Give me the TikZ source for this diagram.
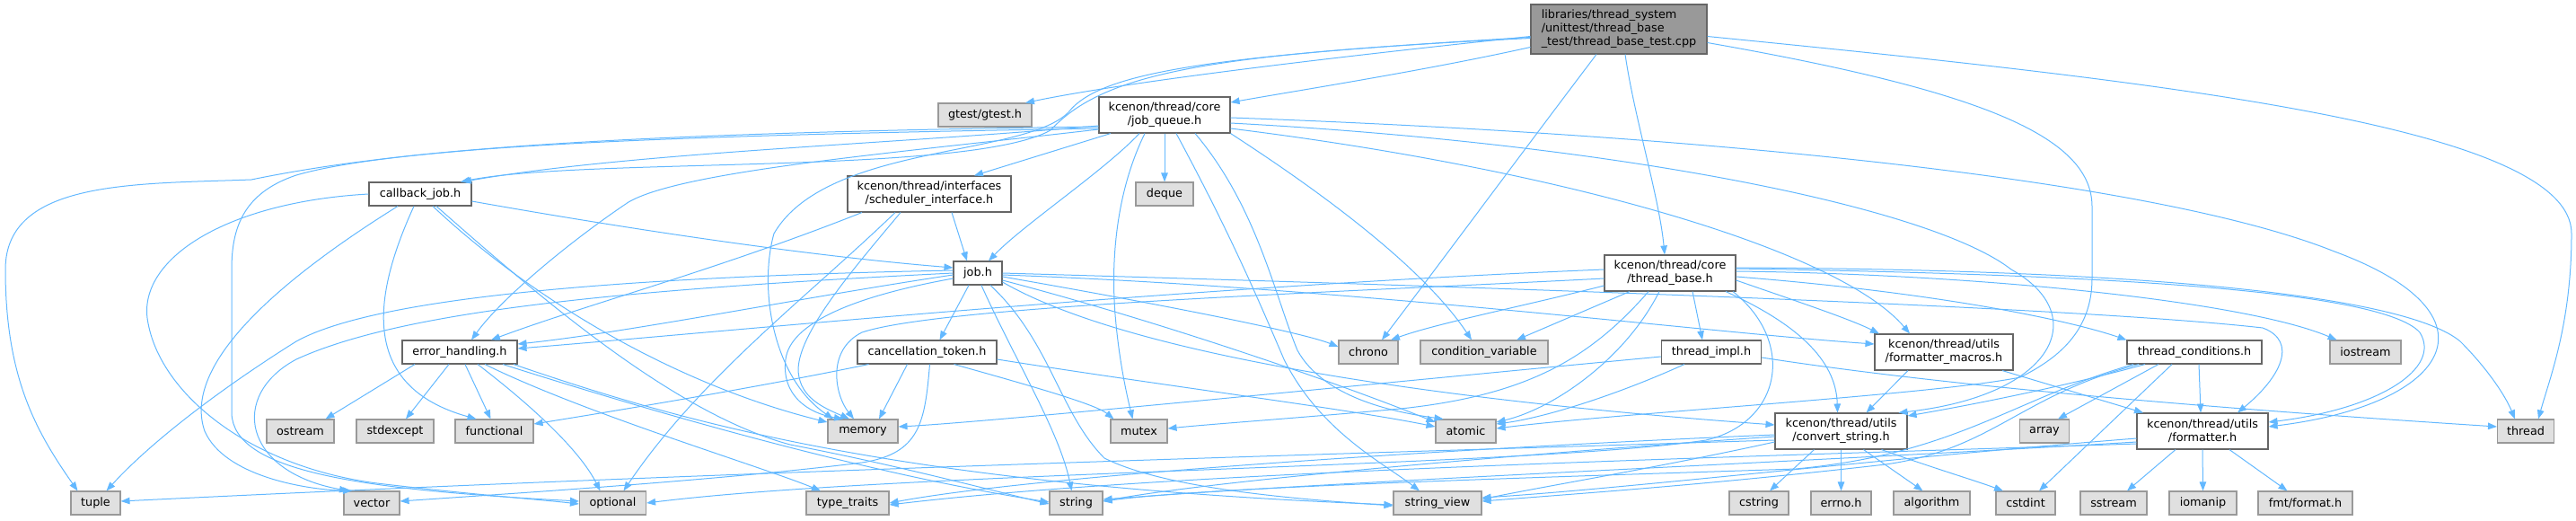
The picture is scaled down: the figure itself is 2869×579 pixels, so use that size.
\documentclass[tikz,border=0pt]{standalone}
\usepackage{fontspec}
\setmainfont{DejaVu Sans}
\usetikzlibrary{arrows.meta}
\definecolor{edgec}{HTML}{63B8FF}
\definecolor{darkb}{HTML}{666666}
\definecolor{lightb}{HTML}{999999}
\definecolor{extfill}{HTML}{E0E0E0}
\definecolor{rootfill}{HTML}{999999}
\tikzset{
  nbase/.style={line width=1.1pt, inner sep=0pt, minimum height=26pt, align=center,
    font=\fontsize{12.8}{15}\selectfont, text=black},
  hdr/.style={nbase, draw=darkb, fill=white},
  ext/.style={nbase, draw=lightb, fill=extfill},
  rootn/.style={nbase, draw=darkb, fill=rootfill, align=left},
  e/.style={draw=edgec, line width=1pt, -{Triangle[length=10pt,width=7.5pt]}}
}
\begin{document}
\begin{tikzpicture}[x=1pt,y=-1pt]
\useasboundingbox (0,0) rectangle (2869,579);
% nodes
\node[rootn, minimum width=196pt, minimum height=55pt] (R) at (1803,32.5) {libraries/thread\_system\\/unittest/thread\_base\\\_test/thread\_base\_test.cpp};
\node[ext, minimum width=104pt] (gtest) at (1097,128) {gtest/gtest.h};
\node[hdr, minimum width=146pt, minimum height=40pt] (JQ) at (1297,128) {kcenon/thread/core\\/job\_queue.h};
\node[hdr, minimum width=114pt] (CB) at (468,216) {callback\_job.h};
\node[hdr, minimum width=182pt, minimum height=40pt] (SI) at (1035,216) {kcenon/thread/interfaces\\/scheduler\_interface.h};
\node[ext, minimum width=64pt] (deque) at (1297,216) {deque};
\node[hdr, minimum width=54pt] (J) at (1089,304) {job.h};
\node[hdr, minimum width=146pt, minimum height=40pt] (TB) at (1860,304) {kcenon/thread/core\\/thread\_base.h};
\node[hdr, minimum width=128pt] (EH) at (512,392) {error\_handling.h};
\node[hdr, minimum width=155pt] (CT) at (1032.5,392) {cancellation\_token.h};
\node[ext, minimum width=66pt] (chrono) at (1524,392) {chrono};
\node[ext, minimum width=142pt] (cv) at (1653,392) {condition\_variable};
\node[hdr, minimum width=111pt] (TI) at (1906,392) {thread\_impl.h};
\node[hdr, minimum width=154pt, minimum height=40pt] (FM) at (2165,392) {kcenon/thread/utils\\/formatter\_macros.h};
\node[hdr, minimum width=150pt] (TC) at (2444,392) {thread\_conditions.h};
\node[ext, minimum width=79pt] (iostream) at (2634.5,392) {iostream};
\node[ext, minimum width=75pt] (ostream) at (334.5,480) {ostream};
\node[ext, minimum width=86pt] (stdexcept) at (440,480) {stdexcept};
\node[ext, minimum width=87pt] (functional) at (550.5,480) {functional};
\node[ext, minimum width=78pt] (memory) at (961,480) {memory};
\node[ext, minimum width=63pt] (mutex) at (1268.5,480) {mutex};
\node[ext, minimum width=67pt] (atomic) at (1632.5,480) {atomic};
\node[hdr, minimum width=147pt, minimum height=40pt] (CS) at (2050.5,480) {kcenon/thread/utils\\/convert\_string.h};
\node[ext, minimum width=55pt] (array) at (2277,480) {array};
\node[hdr, minimum width=146pt, minimum height=40pt] (F) at (2453,480) {kcenon/thread/utils\\/formatter.h};
\node[ext, minimum width=63pt] (thread) at (2813,480) {thread};
\node[ext, minimum width=55pt] (tuple) at (106.5,560) {tuple};
\node[ext, minimum width=62pt] (vector) at (414,560) {vector};
\node[ext, minimum width=74pt] (optional) at (682.5,560) {optional};
\node[ext, minimum width=92pt] (typetraits) at (944,560) {type\_traits};
\node[ext, minimum width=59pt] (string) at (1198.5,560) {string};
\node[ext, minimum width=98pt] (stringview) at (1601,560) {string\_view};
\node[ext, minimum width=66pt] (cstring) at (1959,560) {cstring};
\node[ext, minimum width=67pt] (errno) at (2050.5,560) {errno.h};
\node[ext, minimum width=85pt] (algorithm) at (2151.5,560) {algorithm};
\node[ext, minimum width=66pt] (cstdint) at (2256,560) {cstdint};
\node[ext, minimum width=74pt] (sstream) at (2354,560) {sstream};
\node[ext, minimum width=75pt] (iomanip) at (2453.5,560) {iomanip};
\node[ext, minimum width=105pt] (fmt) at (2567.5,560) {fmt/format.h};

% root edges
\draw[e] ([yshift=-8pt]R.west) .. controls (1500,62) and (1260,90) .. ([xshift=45pt]gtest.north);
\draw[e] ([yshift=-20pt]R.west) .. controls (1590,78) and (1450,100) .. ([yshift=14pt]JQ.east);
\draw[e] ([yshift=-10pt]R.west) .. controls (1350,60) and (1230,80) .. (1170,145) .. controls (1080,195) and (650,175) .. ([xshift=45pt]CB.north);
\draw[e] ([yshift=-9pt]R.west) .. controls (1350,62) and (1225,80) .. (1190,125) .. controls (1140,175) and (920,160) .. (862,260) .. controls (845,320) and (860,420) .. ([xshift=-33pt]memory.north);
\draw[e] ([xshift=7pt]R.south) .. controls (1820,130) and (1848,220) .. ([xshift=-6pt]TB.north);
\draw[e] ([xshift=-25pt]R.south) .. controls (1698,166) and (1619,273) .. ([xshift=15pt]chrono.north);
\draw[e] ([yshift=-8pt]R.east) .. controls (2400,90) and (2864,140) .. (2864,260) .. controls (2864,360) and (2840,420) .. ([xshift=14pt]thread.north);
\draw[e] ([yshift=-15pt]R.east) .. controls (2200,100) and (2330,150) .. (2330,230) -- (2330,310) .. controls (2330,370) and (2290,400) .. (2250,420) .. controls (2150,440) and (1800,460) .. ([yshift=3pt]atomic.east);

% job_queue edges
\draw[e] ([yshift=-12pt]JQ.west) .. controls (1000,160) and (700,170) .. ([xshift=47pt]CB.north);
\draw[e] ([xshift=-60pt]JQ.south) -- ([xshift=50pt]SI.north);
\draw[e] ([xshift=-28pt]JQ.south) .. controls (1230,190) and (1140,250) .. ([xshift=12pt]J.north);
\draw[e] (JQ.south) -- (deque.north);
\draw[e] ([yshift=-16pt]JQ.west) .. controls (1000,170) and (760,190) .. (700,225) .. controls (640,265) and (560,330) .. ([xshift=13pt]EH.north);
\draw[e] ([yshift=-13pt]JQ.west) .. controls (700,148) and (450,165) .. (280,200) .. controls (150,205) and (6,200) .. (6,300) .. controls (6,420) and (40,480) .. ([xshift=-20pt]tuple.north);
\draw[e] ([yshift=-15pt]JQ.west) .. controls (800,150) and (450,160) .. (330,195) .. controls (270,215) and (258,255) .. (258,300) -- (258,460) .. controls (260,525) and (400,545) .. ([yshift=2pt]optional.west);
\draw[e] ([xshift=-22pt]JQ.south) .. controls (1240,220) and (1238,300) .. (1242,350) .. controls (1246,400) and (1255,440) .. ([xshift=-7pt]mutex.north);
\draw[e] ([xshift=13pt]JQ.south) .. controls (1370,260) and (1400,330) .. (1430,400) .. controls (1470,480) and (1540,515) .. ([xshift=-20pt]stringview.north);
\draw[e] ([xshift=34pt]JQ.south) .. controls (1400,230) and (1420,330) .. (1445,390) .. controls (1475,445) and (1560,460) .. ([xshift=-25pt]atomic.north);
\draw[e] (JQ.south east) .. controls (1450,200) and (1580,290) .. ([xshift=-14pt]cv.north);
\draw[e] ([yshift=-3pt]JQ.east) .. controls (1900,150) and (2400,200) .. (2600,280) .. controls (2790,350) and (2730,450) .. ([yshift=5pt]F.east);
\draw[e] ([yshift=-15pt]JQ.east) .. controls (1750,190) and (2050,280) .. ([xshift=-38pt]FM.north);
\draw[e] ([yshift=-9pt]JQ.east) .. controls (1800,160) and (2150,230) .. (2240,300) .. controls (2330,350) and (2290,440) .. ([xshift=64pt]CS.north);

% callback_job edges
\draw[e] ([yshift=-8pt]CB.east) .. controls (700,255) and (900,285) .. ([yshift=6pt]J.west);
\draw[e] ([xshift=14pt]CB.south) .. controls (600,340) and (760,430) .. ([yshift=10pt]memory.west);
\draw[e] ([xshift=18pt]CB.south) .. controls (600,330) and (750,460) .. (880,495) .. controls (1000,518) and (1100,545) .. ([yshift=-1pt]string.west);
\draw[e] ([xshift=-7pt]CB.south) .. controls (415,330) and (400,430) .. ([xshift=-20pt]functional.north);
\draw[e] ([xshift=-25pt]CB.south) .. controls (330,300) and (200,400) .. (228,480) .. controls (250,530) and (340,545) .. ([xshift=-22pt]vector.north);
\draw[e] (CB.west) .. controls (250,225) and (150,290) .. (165,360) .. controls (180,440) and (280,520) .. (420,538) .. controls (520,550) and (600,556) .. ([yshift=-1pt]optional.west);

% error_handling edges
\draw[e] ([xshift=-50pt]EH.south) -- ([xshift=28pt]ostream.north);
\draw[e] ([xshift=-12pt]EH.south) -- ([xshift=12pt]stdexcept.north);
\draw[e] ([xshift=6pt]EH.south) -- ([xshift=-4pt]functional.north);
\draw[e] ([xshift=20pt]EH.south) .. controls (590,450) and (645,500) .. ([xshift=-14pt]optional.north);
\draw[e] ([xshift=28pt]EH.south) .. controls (650,460) and (850,520) .. ([xshift=-30pt]typetraits.north);
\draw[e] ([xshift=48pt]EH.south) .. controls (700,450) and (950,525) .. ([yshift=1pt]string.west);
\draw[e] ([xshift=60pt]EH.south) .. controls (760,470) and (1000,540) .. ([yshift=-2pt]stringview.west);

% cancellation_token edges
\draw[e] ([xshift=-22pt]CT.south) -- ([xshift=18pt]memory.north);
\draw[e] ([xshift=-65pt]CT.south) .. controls (850,430) and (700,455) .. ([yshift=8pt]functional.east);
\draw[e] ([xshift=30pt]CT.south) .. controls (1150,430) and (1220,450) .. ([xshift=-28pt]mutex.north);
\draw[e] ([yshift=-8pt]CT.east) .. controls (1300,430) and (1500,455) .. ([yshift=5pt]atomic.west);
\draw[e] ([xshift=3pt]CT.south) .. controls (1030,470) and (1025,505) .. (960,515) .. controls (800,535) and (560,550) .. ([yshift=2pt]vector.east);

% job.h edges
\draw[e] ([yshift=-2pt]J.west) .. controls (900,330) and (700,370) .. ([yshift=9pt]EH.east);
\draw[e] ([yshift=3pt]J.west) .. controls (700,308) and (420,330) .. (330,380) .. controls (250,430) and (170,490) .. ([xshift=12pt]tuple.north);
\draw[e] (J.west) .. controls (700,322) and (450,345) .. (330,400) .. controls (255,440) and (270,525) .. ([xshift=-26pt]vector.north);
\draw[e] ([yshift=-6pt]J.west) .. controls (950,330) and (880,360) .. (875,400) .. controls (870,440) and (900,460) .. ([xshift=-22pt]memory.north);
\draw[e] ([xshift=-10pt]J.south) -- ([xshift=14pt]CT.north);
\draw[e] ([xshift=4pt]J.south) .. controls (1130,400) and (1180,480) .. ([xshift=-5pt]string.north);
\draw[e] ([xshift=14pt]J.south) .. controls (1170,380) and (1180,460) .. (1230,510) .. controls (1300,545) and (1450,556) .. ([yshift=-3pt]stringview.west);
\draw[e] ([yshift=-4pt]J.east) .. controls (1300,340) and (1450,370) .. ([yshift=6pt]chrono.west);
\draw[e] ([yshift=-8pt]J.east) .. controls (1300,360) and (1500,430) .. ([yshift=10pt]atomic.west);
\draw[e] ([yshift=-10pt]J.east) .. controls (1300,420) and (1800,460) .. ([yshift=7pt]CS.west);
\draw[e] ([yshift=-2pt]J.east) .. controls (1500,320) and (1900,370) .. ([yshift=9pt]FM.west);
\draw[e] (J.east) .. controls (1600,318) and (2300,340) .. (2520,365) .. controls (2560,380) and (2540,420) .. ([xshift=39pt]F.north);

% scheduler_interface edges
\draw[e] ([xshift=25pt]SI.south) -- ([xshift=-12pt]J.north);
\draw[e] ([xshift=-75pt]SI.south) .. controls (800,300) and (650,340) .. ([xshift=35pt]EH.north);
\draw[e] ([xshift=-32pt]SI.south) .. controls (950,300) and (880,380) .. (890,420) .. controls (895,445) and (920,455) .. ([xshift=-15pt]memory.north);
\draw[e] ([xshift=-38pt]SI.south) .. controls (900,330) and (780,420) .. ([xshift=12pt]optional.north);

% thread_base edges
\draw[e] ([yshift=4pt]TB.west) .. controls (1300,320) and (800,370) .. ([yshift=4pt]EH.east);
\draw[e] ([yshift=-6pt]TB.west) .. controls (1500,325) and (1050,340) .. (960,370) .. controls (920,390) and (930,440) .. ([xshift=-10pt]memory.north);
\draw[e] ([yshift=-14pt]TB.west) .. controls (1700,340) and (1600,360) .. ([xshift=25pt]chrono.north);
\draw[e] ([xshift=-45pt]TB.south) -- ([xshift=36pt]cv.north);
\draw[e] ([xshift=-24pt]TB.south) .. controls (1770,400) and (1700,440) .. (1560,455) .. controls (1450,465) and (1350,472) .. ([yshift=3pt]mutex.east);
\draw[e] ([xshift=-12pt]TB.south) .. controls (1810,400) and (1730,455) .. ([yshift=10pt]atomic.east);
\draw[e] ([xshift=25pt]TB.south) -- ([xshift=-10pt]TI.north);
\draw[e] ([xshift=62pt]TB.south) .. controls (2000,360) and (2045,400) .. ([xshift=-4pt]CS.north);
\draw[e] ([yshift=-8pt]TB.east) .. controls (2000,335) and (2060,355) .. ([xshift=-72pt]FM.north);
\draw[e] ([yshift=-4pt]TB.east) .. controls (2150,325) and (2300,355) .. (TC.north west);
\draw[e] ([yshift=2pt]TB.east) .. controls (2200,305) and (2500,335) .. ([xshift=-32pt]iostream.north);
\draw[e] ([yshift=6pt]TB.east) .. controls (2400,300) and (2680,330) .. (2740,380) .. controls (2770,410) and (2790,440) .. ([xshift=-12pt]thread.north);
\draw[e] ([yshift=5pt]TB.east) .. controls (2300,305) and (2650,320) .. (2695,370) .. controls (2720,410) and (2650,455) .. ([yshift=10pt]F.east);
\draw[e] ([xshift=70pt]TB.south) .. controls (2000,380) and (1985,470) .. (1900,490) .. controls (1700,520) and (1000,525) .. (optional.east);

% thread_impl edges
\draw[e] ([yshift=-5pt]TI.west) .. controls (1500,430) and (1100,470) .. ([yshift=5pt]memory.east);
\draw[e] ([xshift=-30pt]TI.south) .. controls (1800,440) and (1720,465) .. ([yshift=8pt]atomic.east);
\draw[e] ([yshift=-6pt]TI.east) .. controls (2200,435) and (2550,460) .. ([yshift=5pt]thread.west);

% formatter_macros edges
\draw[e] ([xshift=-40pt]FM.south) -- ([xshift=28pt]CS.north);
\draw[e] ([xshift=65pt]FM.south) -- ([xshift=-66pt]F.north);

% thread_conditions edges
\draw[e] ([xshift=-55pt]TC.south) .. controls (2300,430) and (2200,450) .. ([yshift=17pt]CS.east);
\draw[e] ([xshift=-40pt]TC.south) -- ([xshift=15pt]array.north);
\draw[e] ([xshift=-25pt]TC.south) -- ([xshift=15pt]cstdint.north);
\draw[e] ([xshift=5pt]TC.south) -- ([xshift=-2pt]F.north);
\draw[e] ([xshift=-62pt]TC.south) .. controls (2250,440) and (2220,500) .. (2100,517) .. controls (1900,540) and (1750,550) .. ([yshift=2pt]stringview.east);
\draw[e] ([xshift=-68pt]TC.south) .. controls (2240,445) and (2180,505) .. (2000,522) .. controls (1700,532) and (1350,542) .. ([yshift=2pt]string.east);

% convert_string edges
\draw[e] ([xshift=-30pt]CS.south) -- ([xshift=12pt]cstring.north);
\draw[e] (CS.south) -- (errno.north);
\draw[e] ([xshift=25pt]CS.south) -- ([xshift=-10pt]algorithm.north);
\draw[e] ([xshift=45pt]CS.south) .. controls (2150,520) and (2200,535) .. ([xshift=-25pt]cstdint.north);
\draw[e] ([yshift=-12pt]CS.west) .. controls (1850,520) and (1700,545) .. ([yshift=4pt]stringview.east);
\draw[e] ([yshift=-6pt]CS.west) .. controls (1700,505) and (1350,535) .. ([yshift=2pt]string.east);
\draw[e] ([yshift=-4pt]CS.west) .. controls (1600,500) and (1150,530) .. (typetraits.east);
\draw[e] ([yshift=-10pt]CS.west) .. controls (1500,505) and (800,525) .. ([yshift=2pt]tuple.east);

% formatter edges
\draw[e] ([xshift=-30pt]F.south) -- ([xshift=15pt]sstream.north);
\draw[e] (F.south) -- (iomanip.north);
\draw[e] ([xshift=30pt]F.south) -- ([xshift=-20pt]fmt.north);
\draw[e] ([yshift=-8pt]F.west) .. controls (2100,510) and (1800,545) .. ([yshift=6pt]stringview.east);
\draw[e] ([yshift=-12pt]F.west) .. controls (2000,515) and (1500,535) .. ([yshift=4pt]string.east);
\draw[e] ([yshift=-14pt]F.west) .. controls (1900,510) and (1300,525) .. ([yshift=-2pt]typetraits.east);
\end{tikzpicture}
\end{document}
